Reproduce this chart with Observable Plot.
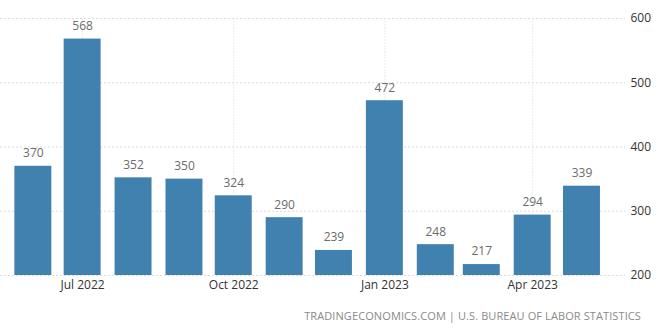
<!DOCTYPE html>
<html>
<head>
<meta charset="utf-8">
<script src="https://cdn.jsdelivr.net/npm/d3@7"></script>
<script src="https://cdn.jsdelivr.net/npm/@observablehq/plot@0.6"></script>
<style>
  html, body { margin: 0; padding: 0; background: #fff; }
  #wrap { width: 661px; height: 330px; position: relative; font-family: "Open Sans", "Noto Sans", sans-serif; }
  #caption { position: absolute; right: 20px; top: 308px; font-size: 11px; color: #8a8a8a; letter-spacing: 0.1px; white-space: nowrap; }
</style>
</head>
<body>
<div id="wrap">
  <div id="chart"></div>
  <div id="caption">TRADINGECONOMICS.COM | U.S. BUREAU OF LABOR STATISTICS</div>
</div>
<script>
const months = ["2022-06-01","2022-07-01","2022-08-01","2022-09-01","2022-10-01","2022-11-01","2022-12-01","2023-01-01","2023-02-01","2023-03-01","2023-04-01","2023-05-01"];
const values = [370, 568, 352, 350, 324, 290, 239, 472, 248, 217, 294, 339];
const xTicks = ["2022-07-01","2022-10-01","2023-01-01","2023-04-01"];
const yTicks = [200, 300, 400, 500, 600];

const data = months.map((m, i) => ({date: new Date(m + "T00:00:00Z"), value: values[i]}));
const xTickDates = xTicks.map(d => new Date(d + "T00:00:00Z"));
const halfBar = 11.25 * 864e5;

const chart = Plot.plot({
  width: 661,
  height: 300,
  marginTop: 18,
  marginBottom: 25,
  marginLeft: 0,
  marginRight: 36,
  style: {fontFamily: "'Open Sans', 'Noto Sans', sans-serif", fontSize: "12px", color: "#333"},
  x: {type: "utc", label: null, domain: [new Date("2022-05-12T00:00:00Z"), new Date("2023-05-27T12:00:00Z")]},
  y: {domain: [200, 600], label: null},
  marks: [
    Plot.gridY(yTicks, {stroke: "#dcdcdc", strokeOpacity: 1, strokeDasharray: "2,2"}),
    Plot.gridX(xTickDates, {stroke: "#ececec", strokeOpacity: 1, strokeDasharray: "2,1"}),
    Plot.rectY(data, {
      x1: d => new Date(+d.date - halfBar),
      x2: d => new Date(+d.date + halfBar),
      y1: 200,
      y2: "value",
      fill: "#4181b0"
    }),
    Plot.text(data, {x: "date", y: "value", text: d => String(d.value), dy: -13, fill: "#6b6b6b", fontSize: 12}),
    Plot.axisY(yTicks, {anchor: "right", label: null, tickSize: 0, tickPadding: 5, fill: "#333", fontSize: 12}),
    Plot.axisX(xTickDates, {anchor: "bottom", label: null, tickSize: 0, tickPadding: 5, tickFormat: d3.utcFormat("%b %Y"), fill: "#333", fontSize: 12})
  ]
});
document.getElementById("chart").appendChild(chart);
</script>
</body>
</html>
